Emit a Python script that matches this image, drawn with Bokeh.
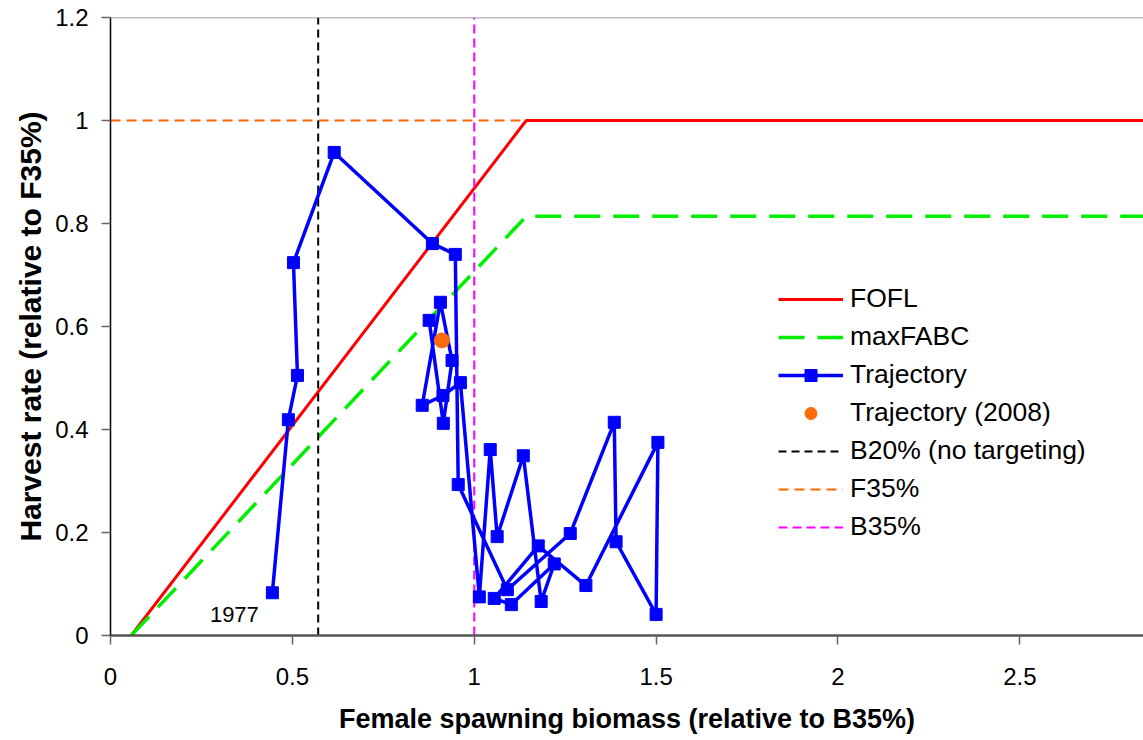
from bokeh.plotting import figure
from bokeh.models import (ColumnDataSource, Legend, LegendItem, FixedTicker, Label, Span)
from bokeh.embed import file_html
from bokeh.resources import INLINE

# ---------------- data ----------------
years = list(range(1977, 2008))
traj_b = [0.445, 0.489, 0.514, 0.503, 0.615, 0.885, 0.948, 0.956, 1.091, 1.264,
          1.385, 1.390, 1.500, 1.505, 1.307, 1.176, 1.055, 1.102, 1.220, 1.184,
          1.135, 1.063, 1.044, 1.014, 0.962, 0.914, 0.857, 0.907, 0.939, 0.915,
          0.876]
traj_f = [0.083, 0.419, 0.505, 0.724, 0.938, 0.761, 0.740, 0.293, 0.089, 0.198,
          0.414, 0.182, 0.041, 0.375, 0.097, 0.174, 0.072, 0.060, 0.139, 0.066,
          0.349, 0.192, 0.361, 0.075, 0.491, 0.466, 0.447, 0.647, 0.534, 0.412,
          0.612]
b2008 = [0.911]
f2008 = [0.573]

fofl_x = [0.057, 1.143, 2.84]
fofl_y = [0.0, 1.0, 1.0]
fabc_x = [0.057, 1.143, 2.84]
fabc_y = [0.0, 0.814, 0.814]

b20 = 0.571
f35 = 1.0
b35 = 1.0

x_ticks = [0, 0.5, 1, 1.5, 2, 2.5]
x_tick_labels = ["0", "0.5", "1", "1.5", "2", "2.5"]
y_ticks = [0, 0.2, 0.4, 0.6, 0.8, 1.0, 1.2]
y_tick_labels = ["0", "0.2", "0.4", "0.6", "0.8", "1", "1.2"]

x_max = 2.84
y_max = 1.2

FONT = "Liberation Sans"

p = figure(width=1143, height=740, x_range=(0, x_max), y_range=(0, y_max),
           output_backend="svg", toolbar_location=None,
           min_border_left=110, min_border_right=0, min_border_top=17,
           min_border_bottom=105)
p.outline_line_color = None
p.xgrid.visible = False
p.ygrid.visible = False
p.background_fill_color = "white"
p.border_fill_color = "white"

# reference lines
r_f35 = p.line([0, x_max], [f35, f35], line_color="#ff6600", line_width=2,
               line_dash="10 6")
r_fofl = p.line(fofl_x, fofl_y, line_color="#ff0000", line_width=3)
r_fabc = p.line(fabc_x, fabc_y, line_color="#00ee00", line_width=3.5,
                line_dash="26 13")
r_b20 = p.line([b20, b20], [0, y_max], line_color="black", line_width=2,
               line_dash="8 5")
r_b35 = p.line([b35, b35], [0, y_max], line_color="#ff00ff", line_width=2,
               line_dash="9 5")

src = ColumnDataSource(dict(b=traj_b, f=traj_f, year=years))
r_tl = p.line("b", "f", source=src, line_color="#0000ff", line_width=3.5)
r_ts = p.scatter("b", "f", source=src, marker="square", size=12,
                 fill_color="#0000ff", line_color="#0000ff")
r_08 = p.scatter(b2008, f2008, marker="circle", size=15,
                 fill_color="#ff6a0a", line_color="#ff6a0a")

p.add_layout(Span(location=y_max, dimension="width", line_color="#808080",
                  line_width=1.5))

p.add_layout(Label(x=traj_b[0], y=traj_f[0], x_offset=-38, y_offset=-22,
                   text=str(years[0]), text_align="center",
                   text_baseline="middle", text_font=FONT,
                   text_font_size="22px", text_color="black"))

# axes
p.xaxis.ticker = FixedTicker(ticks=x_ticks)
p.xaxis.major_label_overrides = {t: l for t, l in zip(x_ticks, x_tick_labels)}
p.yaxis.ticker = FixedTicker(ticks=y_ticks)
p.yaxis.major_label_overrides = {t: l for t, l in zip(y_ticks, y_tick_labels)}
for ax in (p.xaxis[0], p.yaxis[0]):
    ax.major_label_text_font = FONT
    ax.major_label_text_font_size = "24px"
    ax.major_label_text_color = "black"
    ax.axis_label_text_font = FONT
    ax.axis_label_text_font_style = "bold"
    ax.axis_label_text_color = "black"
    ax.minor_tick_line_color = None
    ax.major_tick_in = 0
    ax.major_tick_out = 9
    ax.major_tick_line_color = "#666666"
    ax.major_tick_line_width = 1.5

p.xaxis.axis_label = "Female spawning biomass (relative to B35%)"
p.yaxis.axis_label = "Harvest rate (relative to F35%)"
p.xaxis.axis_label_text_font_size = "27px"
p.yaxis.axis_label_text_font_size = "30px"
p.xaxis.axis_line_color = "#555555"
p.xaxis.axis_line_width = 2.5
p.yaxis.axis_line_color = "black"
p.yaxis.axis_line_width = 1.5
p.xaxis.major_label_standoff = 23
p.yaxis.major_label_standoff = 13
p.xaxis.axis_label_standoff = 16
p.yaxis.axis_label_standoff = 5

legend = Legend(items=[
    LegendItem(label="FOFL", renderers=[r_fofl]),
    LegendItem(label="maxFABC", renderers=[r_fabc]),
    LegendItem(label="Trajectory", renderers=[r_tl, r_ts]),
    LegendItem(label="Trajectory (2008)", renderers=[r_08]),
    LegendItem(label="B20% (no targeting)", renderers=[r_b20]),
    LegendItem(label="F35%", renderers=[r_f35]),
    LegendItem(label="B35%", renderers=[r_b35]),
], location=(668, 93))
legend.label_text_font = FONT
legend.label_text_font_size = "26.5px"
legend.label_text_color = "black"
legend.glyph_width = 65
legend.glyph_height = 30
legend.label_height = 30
legend.spacing = 7
legend.padding = 0
legend.margin = 0
legend.label_standoff = 7
legend.border_line_color = None
legend.background_fill_alpha = 0
p.add_layout(legend)

open("out.html", "w").write(file_html(p, INLINE))
